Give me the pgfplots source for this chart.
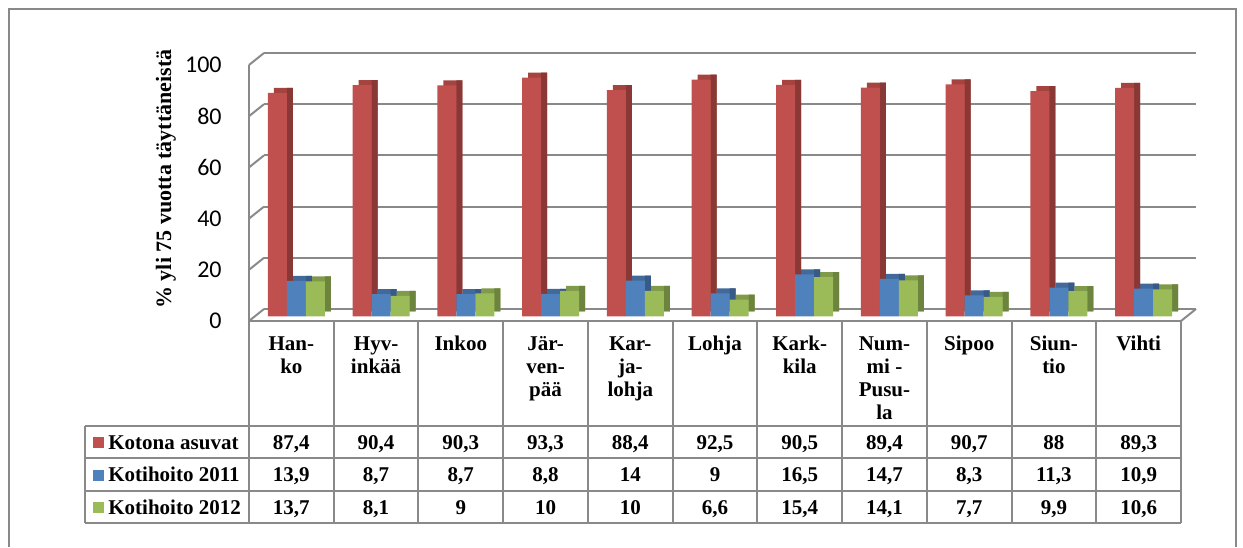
\documentclass[border=0pt]{standalone}
\usepackage{fontspec}
\setmainfont{Liberation Serif}
\newfontfamily\carlito{Carlito}
\usepackage{pgfplots}
\usepackage{pgfplotstable}
\pgfplotsset{compat=1.18}
\pgfkeys{/pgf/number format/assume math mode=true}

\definecolor{gridgray}{RGB}{137,137,137}
\definecolor{cred}{HTML}{C0504D}
\definecolor{cblue}{HTML}{4F81BD}
\definecolor{cgreen}{HTML}{9BBB59}
\definecolor{tred}{HTML}{A5433F}
\definecolor{tblue}{HTML}{41699A}
\definecolor{tgreen}{HTML}{7F9A48}
\definecolor{dred}{HTML}{8A3836}
\definecolor{dblue}{HTML}{375A86}
\definecolor{dgreen}{HTML}{6D843E}

\newcommand{\tabfont}{\fontsize{10.5}{11.5}\selectfont\bfseries}

\pgfplotstableread{
cat red blue green
0 87.4 13.9 13.7
1 90.4 8.7 8.1
2 90.3 8.7 9
3 93.3 8.8 10
4 88.4 14 10
5 92.5 9 6.6
6 90.5 16.5 15.4
7 89.4 14.7 14.1
8 90.7 8.3 7.7
9 88 11.3 9.9
10 89.3 10.9 10.6
}\datatable

\pgfplotsset{
  base/.style={scale only axis, width=466pt, height=128pt,
    xmin=-0.5, xmax=10.5, ymin=0, ymax=100, anchor=south west},
  bars/.style={base, hide axis, ybar, bar width=9.5pt, clip=false},
}

\begin{document}
\begin{tikzpicture}
% back wall with gridlines
\begin{axis}[base, at={(132pt,119pt)},
  axis line style={draw=none}, xtick=\empty,
  ytick={0,20,40,60,80,100}, yticklabel style={opacity=0}, major tick length=0pt,
  ymajorgrids, grid style={gridgray, line width=1pt}]
\addplot[draw=none] coordinates {(0,0)};
\end{axis}
% bar back faces (top shade, then side strip)
\begin{axis}[bars, at={(130pt,117.75pt)}]
\addplot[fill=tred, draw=none, bar shift=-9.5pt] table[x=cat,y=red]{\datatable};
\addplot[fill=tblue, draw=none, bar shift=0pt] table[x=cat,y=blue]{\datatable};
\addplot[fill=tgreen, draw=none, bar shift=9.5pt] table[x=cat,y=green]{\datatable};
\addplot[fill=dred, draw=none, bar width=3pt, bar shift=-6.25pt] table[x=cat,y=red]{\datatable};
\addplot[fill=dblue, draw=none, bar width=3pt, bar shift=3.25pt] table[x=cat,y=blue]{\datatable};
\addplot[fill=dgreen, draw=none, bar width=3pt, bar shift=12.75pt] table[x=cat,y=green]{\datatable};
\end{axis}
% bar front faces
\begin{axis}[bars, at={(127pt,115.25pt)}]
\addplot[fill=cred, draw=none, bar shift=-9.5pt] table[x=cat,y=red]{\datatable};
\addplot[fill=cblue, draw=none, bar shift=0pt] table[x=cat,y=blue]{\datatable};
\addplot[fill=cgreen, draw=none, bar shift=9.5pt] table[x=cat,y=green]{\datatable};
\end{axis}
% front axis: left wall, floor edge, labels
\begin{axis}[base, at={(124.5pt,113pt)}, clip=false,
  axis lines=left, axis line style={-, gridgray, line width=1pt},
  major tick length=0pt, tick style={draw=none},
  xtick={0,...,10},
  xticklabels={{\strut Han-\\ko},{\strut Hyv-\\inkää},{\strut Inkoo},{\strut Jär-\\ven-\\pää},{\strut Kar-\\ja-\\lohja},{\strut Lohja},{\strut Kark-\\kila},{\strut Num-\\mi -\\Pusu-\\la},{\strut Sipoo},{\strut Siun-\\tio},{\strut Vihti}},
  xticklabel style={font=\tabfont, align=center, anchor=north, inner sep=0pt, yshift=-6.5pt},
  ytick={0,20,40,60,80,100},
  yticklabel style={font=\carlito\fontsize{12}{14}\selectfont, anchor=east, inner sep=0pt, xshift=-13.5pt},
]
\addplot[draw=none] coordinates {(0,0)};
\pgfplotsinvokeforeach{0,20,40,60,80,100}{
  \draw[gridgray, line width=1pt] (axis cs:-0.5,#1) -- ++(7.5pt,6pt);
}
\draw[gridgray, line width=1pt] (axis cs:10.5,0) -- ++(7.5pt,6pt);
\end{axis}
% table, frame, title (pixel coordinates, y down)
\begin{scope}[x=0.5pt, y=-0.5pt, yshift=273.5pt]
\draw[gridgray, line width=1pt] (9,547) -- (9,9) -- (1236,9) -- (1236,547);
\foreach \k in {0,...,11} {
  \draw[gridgray, line width=1pt] ({249+84.727*\k},321) -- ({249+84.727*\k},523);
}
\foreach \yy in {426,458,491,523} {
  \draw[gridgray, line width=1pt] (85,\yy) -- (1181,\yy);
}
\draw[gridgray, line width=1pt] (85,426) -- (85,523);
\fill[cred] (93,437) rectangle (104,448);
\fill[cblue] (93,469.5) rectangle (104,480.5);
\fill[cgreen] (93,502) rectangle (104,513);
\node[anchor=base west, inner sep=0pt, font=\tabfont] at (108,449) {Kotona asuvat};
\node[anchor=base west, inner sep=0pt, font=\tabfont] at (108,481.5) {Kotihoito 2011};
\node[anchor=base west, inner sep=0pt, font=\tabfont] at (108,514) {Kotihoito 2012};
\foreach \i in {0,...,10} {
  \pgfplotstablegetelem{\i}{red}\of\datatable
  \node[anchor=base, inner sep=0pt, font=\tabfont] at ({291.36+84.727*\i},449) {\pgfmathprintnumber[use comma, fixed, precision=1]{\pgfplotsretval}};
  \pgfplotstablegetelem{\i}{blue}\of\datatable
  \node[anchor=base, inner sep=0pt, font=\tabfont] at ({291.36+84.727*\i},481.5) {\pgfmathprintnumber[use comma, fixed, precision=1]{\pgfplotsretval}};
  \pgfplotstablegetelem{\i}{green}\of\datatable
  \node[anchor=base, inner sep=0pt, font=\tabfont] at ({291.36+84.727*\i},514) {\pgfmathprintnumber[use comma, fixed, precision=1]{\pgfplotsretval}};
}
\node[rotate=90, anchor=base, inner sep=0pt, font=\fontsize{11}{12}\selectfont\bfseries] at (171,179) {\% yli 75 vuotta täyttäneistä};
\end{scope}
\pgfresetboundingbox
\path[use as bounding box] (0,0) rectangle (621.5pt,273.5pt);
\end{tikzpicture}
\end{document}
